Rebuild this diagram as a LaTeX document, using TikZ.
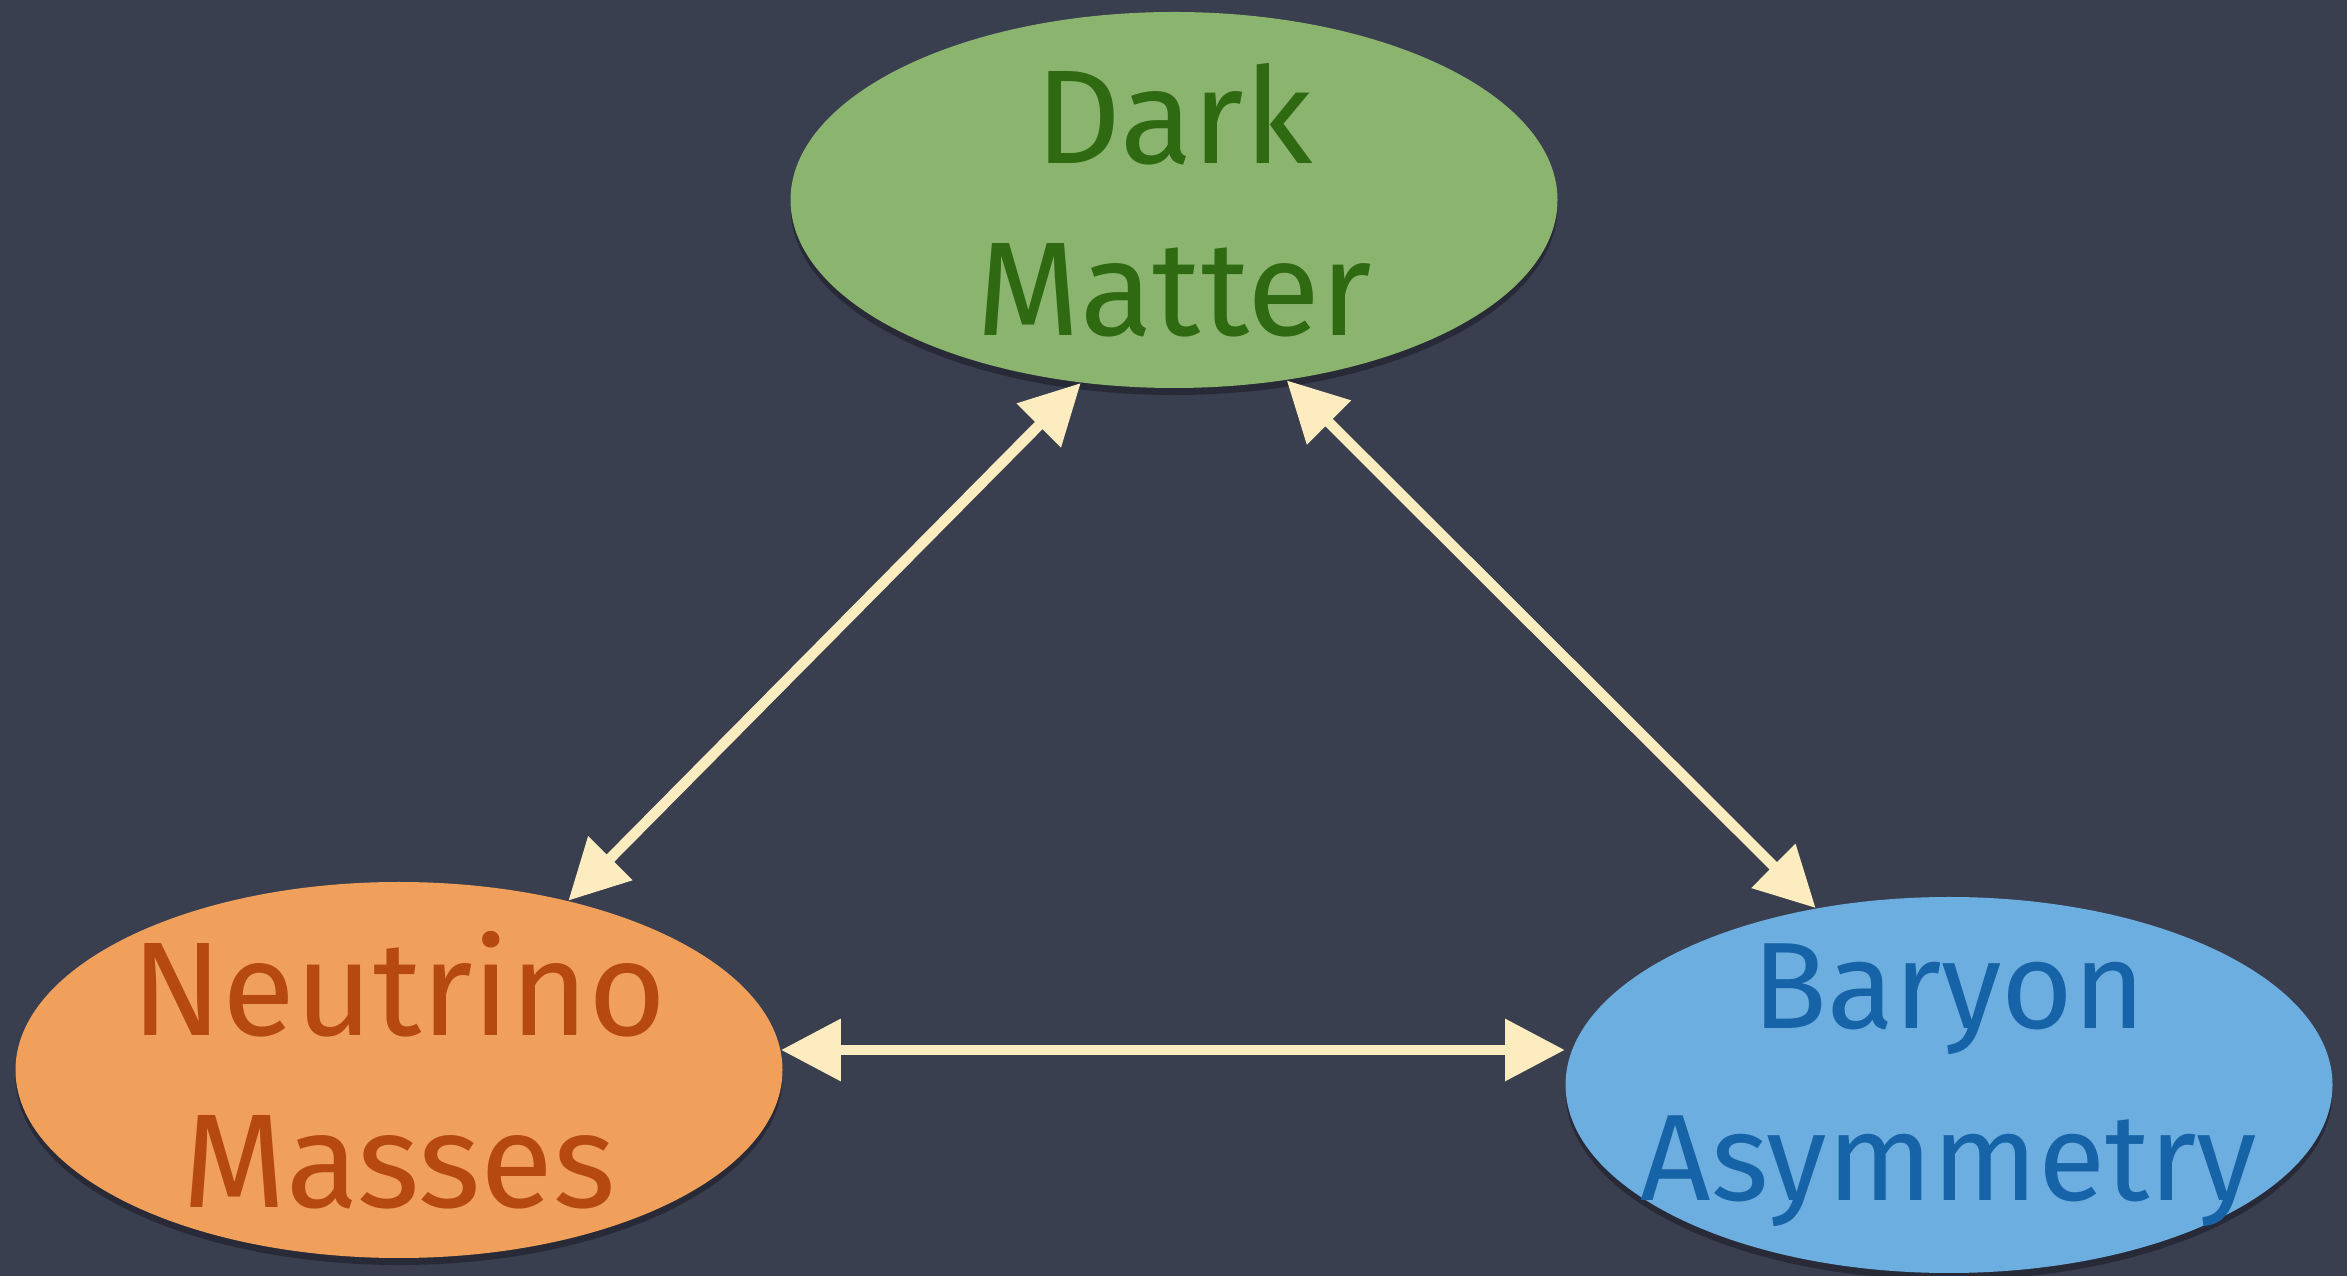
\documentclass[tikz,border=0pt]{standalone}
\usepackage{fontspec}
\setmainfont{Fira Sans}
\usetikzlibrary{shapes.geometric,arrows.meta,shadows}

\definecolor{board}{RGB}{58,63,80}
\definecolor{chalk}{RGB}{252,236,192}
\definecolor{dmfill}{RGB}{139,181,111}
\definecolor{dmtext}{RGB}{47,106,18}
\definecolor{nmfill}{RGB}{240,160,90}
\definecolor{nmtext}{RGB}{181,73,14}
\definecolor{bafill}{RGB}{108,174,224}
\definecolor{batext}{RGB}{23,99,168}

\begin{document}
\begin{tikzpicture}[
  blob/.style={ellipse, minimum width=7.67cm, minimum height=3.76cm, inner sep=0pt, fill=#1,
    drop shadow={fill=black, opacity=0.3, shadow xshift=0pt, shadow yshift=-2pt}},
  word/.style={align=center, text=#1, font=\fontsize{38}{49}\selectfont},
  link/.style={chalk, line width=3pt, {Triangle[length=17pt,width=17pt]}-{Triangle[length=17pt,width=17pt]}}
]

% Draw board
\fill[board] (0,0) rectangle (23.47,12.76);

% Draw ellipses
\node[blob=dmfill, label={[word=dmtext]center:Dark\\Matter}] (dm) at (11.74,10.76) {};
\node[blob=nmfill, label={[word=nmtext]center:Neutrino\\Masses}] (nm) at (3.99,2.06) {};
\node[blob=bafill, label={[word=batext, font=\fontsize{35}{49}\selectfont]center:Baryon\\Asymmetry}] (ba) at (19.49,1.91) {};

% Draw arrows
\draw[link] (dm.243) -- (nm.45);
\draw[link] (dm.302) -- (ba.127);
\draw[link] (nm.3) -- (nm.3 -| ba.west);

\end{tikzpicture}
\end{document}
